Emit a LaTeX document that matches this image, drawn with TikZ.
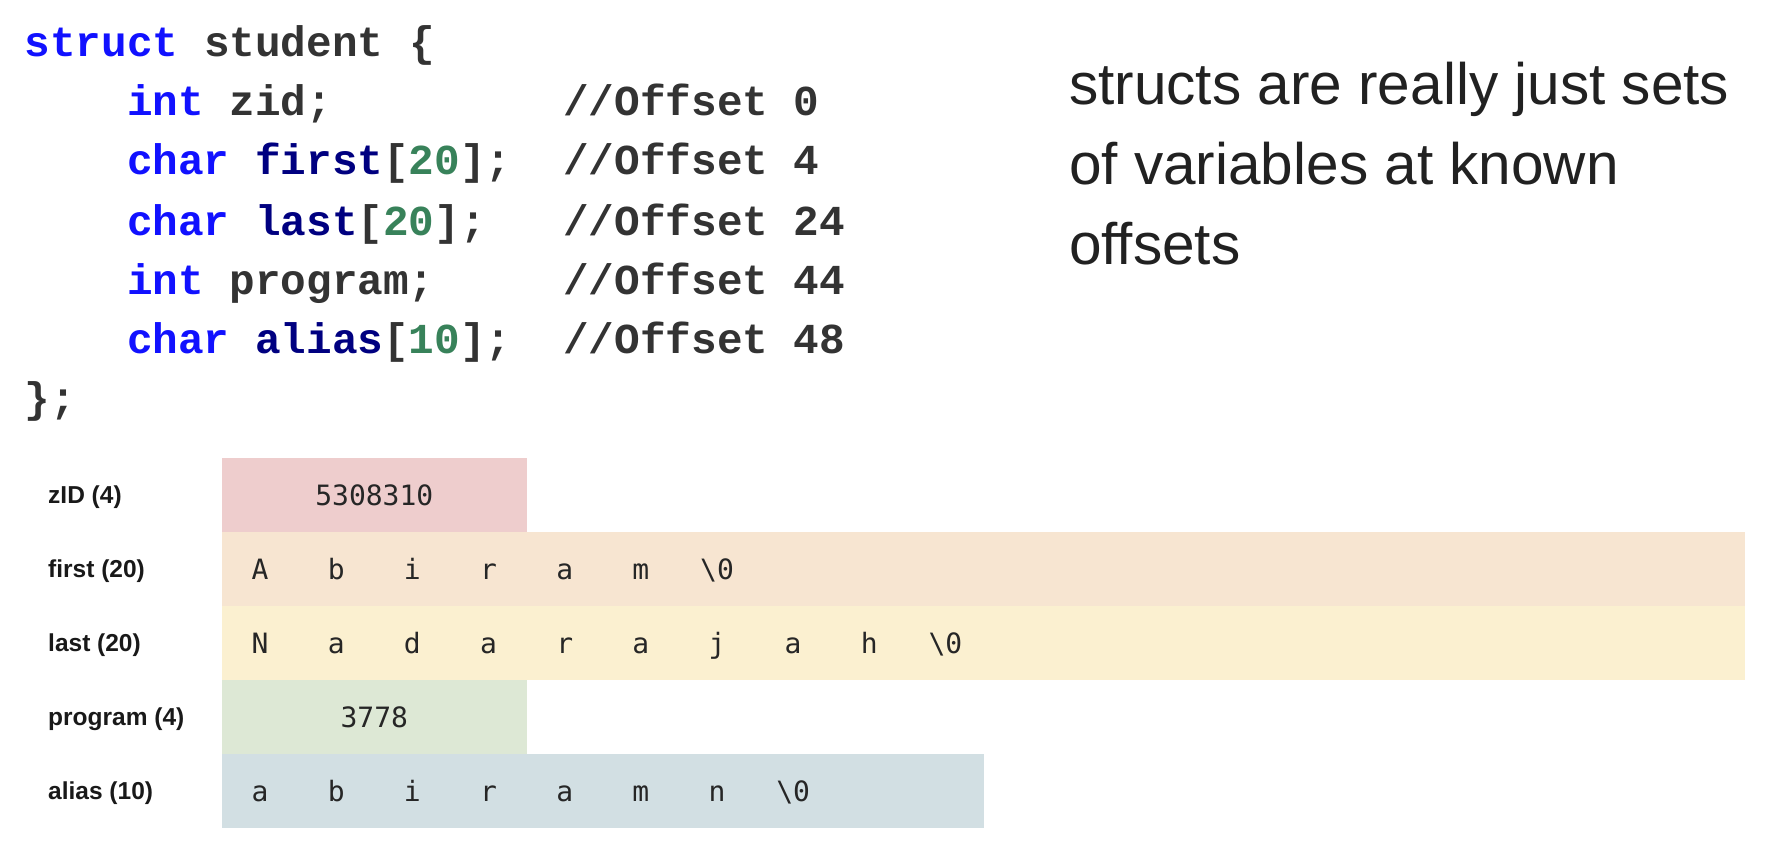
\documentclass[tikz,border=0pt]{standalone}
\usepackage{fontspec}
\usepackage{tikz}
\usepackage{xcolor}
\usetikzlibrary{
    positioning
}
\newfontfamily\codefont{Liberation Mono}
\newfontfamily\notefont{Liberation Sans}
\newfontfamily\bytefont{DejaVu Sans Mono}
\definecolor{kwC}   {RGB}{17, 17, 255}
\definecolor{fldC}  {RGB}{0, 0, 128}
\definecolor{txC}   {RGB}{51, 51, 51}
\definecolor{numC}  {RGB}{56, 130, 90}
\definecolor{noteC} {RGB}{33, 33, 33}
\definecolor{zidC}  {RGB}{238, 205, 205}
\definecolor{firstC}{RGB}{247, 229, 209}
\definecolor{lastC} {RGB}{251, 240, 208}
\definecolor{progC} {RGB}{221, 232, 213}
\definecolor{aliasC}{RGB}{210, 223, 227}
\tikzset{
  code/.style  = {anchor=base west, inner sep=0pt, text=txC,
                  font=\codefont\bfseries\fontsize{42.7}{50}\selectfont},
  cmt/.style   = {code},
  lbl/.style   = {anchor=base west, inner sep=0pt, text=black!90,
                  font=\notefont\bfseries\fontsize{24.5}{28}\selectfont},
  byte/.style  = {anchor=base, inner sep=0pt, text=black!85,
                  font=\bytefont\fontsize{28}{34}\selectfont},
  note/.style  = {anchor=north west, inner sep=0pt, align=left, text=noteC,
                  font=\notefont\fontsize{58.5}{80}\selectfont}
}
\newcommand{\kw}[1]{\textcolor{kwC}{#1}}
\newcommand{\fld}[1]{\textcolor{fldC}{#1}}
\newcommand{\cnum}[1]{\textcolor{numC}{#1}}
\newcommand{\drawrow}[3]{%
  \fill[#3] (222,#1) rectangle ({222+#2*76.15},{#1+74});
}

\begin{document}
\begin{tikzpicture}[x=1pt, y=-1pt]
  \useasboundingbox (0,0) rectangle (1780,848);

  %% ── Struct declaration ───────────────────────────────────────
  \node[code] (ln0) at ( 24.5, 57) {\kw{struct} student \{};
  \node[code] (ln1) at (126.9,116) {\kw{int} zid;};
  \node[code] (ln2) at (126.9,175) {\kw{char} \fld{first}[\cnum{20}];};
  \node[code] (ln3) at (126.9,235) {\kw{char} \fld{last}[\cnum{20}];};
  \node[code] (ln4) at (126.9,294) {\kw{int} program;};
  \node[code] (ln5) at (126.9,353) {\kw{char} \fld{alias}[\cnum{10}];};
  \node[code] (ln6) at ( 24.5,412) {\};};

  %% ── Offset comments ──────────────────────────────────────────
  \node[cmt] (off1) at (563.1,116) {//Offset 0};
  \node[cmt] (off2) at (563.1,175) {//Offset 4};
  \node[cmt] (off3) at (563.1,235) {//Offset 24};
  \node[cmt] (off4) at (563.1,294) {//Offset 44};
  \node[cmt] (off5) at (563.1,353) {//Offset 48};

  %% ── Side note ────────────────────────────────────────────────
  \node[note] (note) at (1069,62)
    {structs are really just sets\\of variables at known\\offsets};

  %% ── Memory rows ──────────────────────────────────────────────
  \drawrow{458}{4}{zidC}     % zID
  \drawrow{532}{20}{firstC}  % first
  \drawrow{606}{20}{lastC}   % last
  \drawrow{680}{4}{progC}    % program
  \drawrow{754}{10}{aliasC}  % alias

  %% ── Row labels ───────────────────────────────────────────────
  \node[lbl] (lzid)   at (48,503) {zID (4)};
  \node[lbl] (lfirst) at (48,577) {first (20)};
  \node[lbl] (llast)  at (48,651) {last (20)};
  \node[lbl] (lprog)  at (48,725) {program (4)};
  \node[lbl] (lalias) at (48,799) {alias (10)};

  %% ── zID / program values ─────────────────────────────────────
  \node[byte] (vzid)  at (374.3,505) {5308310};
  \node[byte] (vprog) at (374.3,727) {3778};

  %% ── first ────────────────────────────────────────────────────
  \node[byte] (f1) at (260.1,579) {A};  \node[byte] (f2) at (336.2,579) {b};
  \node[byte] (f3) at (412.4,579) {i};  \node[byte] (f4) at (488.5,579) {r};
  \node[byte] (f5) at (564.7,579) {a};  \node[byte] (f6) at (640.8,579) {m};
  \node[byte] (f7) at (717.0,579) {\textbackslash 0};

  %% ── last ─────────────────────────────────────────────────────
  \node[byte] (l1) at (260.1,653) {N};  \node[byte] (l2) at (336.2,653) {a};
  \node[byte] (l3) at (412.4,653) {d};  \node[byte] (l4) at (488.5,653) {a};
  \node[byte] (l5) at (564.7,653) {r};  \node[byte] (l6) at (640.8,653) {a};
  \node[byte] (l7) at (717.0,653) {j};  \node[byte] (l8) at (793.1,653) {a};
  \node[byte] (l9) at (869.3,653) {h};
  \node[byte] (l10) at (945.4,653) {\textbackslash 0};

  %% ── alias ────────────────────────────────────────────────────
  \node[byte] (a1) at (260.1,801) {a};  \node[byte] (a2) at (336.2,801) {b};
  \node[byte] (a3) at (412.4,801) {i};  \node[byte] (a4) at (488.5,801) {r};
  \node[byte] (a5) at (564.7,801) {a};  \node[byte] (a6) at (640.8,801) {m};
  \node[byte] (a7) at (717.0,801) {n};
  \node[byte] (a8) at (793.1,801) {\textbackslash 0};

\end{tikzpicture}
\end{document}
